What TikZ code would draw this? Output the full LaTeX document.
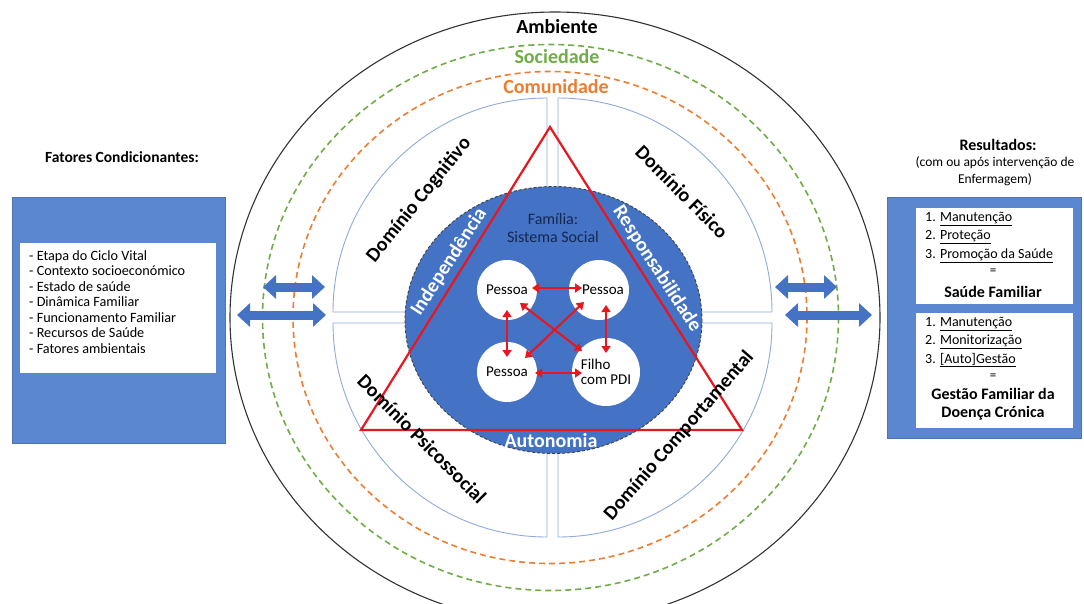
\documentclass[tikz,border=0pt]{standalone}
\usepackage{fontspec}
\setmainfont{Carlito}
\usetikzlibrary{arrows.meta, calc}
\definecolor{myblue}{RGB}{68,114,196}
\definecolor{boxblue}{RGB}{91,135,208}
\definecolor{quadblue}{RGB}{143,170,220}
\definecolor{mygreen}{RGB}{112,173,71}
\definecolor{myorange}{RGB}{237,125,49}
\definecolor{myred}{RGB}{232,22,30}
\definecolor{navy}{RGB}{22,40,80}
\newcommand{\fsz}[1]{\fontsize{#1}{#1}\selectfont}

\tikzset{
  ringline/.style={line width=1.6pt, dash pattern=on 6pt off 4pt},
  quadrant/.style={draw=quadblue, fill=white, line width=0.9pt},
  domlabel/.style={font=\fsz{20}\bfseries, inner sep=0pt},
  toplabel/.style={font=\fsz{20}\bfseries, inner sep=0pt},
  whitelabel/.style={font=\fsz{20}\bfseries, text=white, inner sep=0pt},
  pessoa/.style={circle, fill=white, minimum size=60pt, inner sep=0pt, font=\fsz{15}},
  redarrow/.style={draw=myred, line width=2.1pt, {Triangle[length=7pt,width=9pt]}-{Triangle[length=7pt,width=9pt]}},
  blockarrow/.style={draw=myblue, line width=9pt, {Triangle[length=13pt,width=23pt]}-{Triangle[length=13pt,width=23pt]}},
  panel/.style={fill=boxblue, draw=boxblue!85!black, line width=0.6pt},
  whitebox/.style={fill=white},
  listtext/.style={font=\fontsize{14.2}{15.5}\selectfont, align=left, inner sep=0pt, anchor=north west},
  restext/.style={font=\fontsize{14}{18.3}\selectfont, align=left, inner sep=0pt, anchor=north west},
  boldtext/.style={font=\fontsize{16}{18}\selectfont\bfseries, align=center, inner sep=0pt},
  headtext/.style={font=\fsz{16}\bfseries, inner sep=0pt},
}

\begin{document}
\begin{tikzpicture}[x=1pt, y=-1pt]
\useasboundingbox (0,0) rectangle (1084,603);
\fill[white] (0,0) rectangle (1084,603);
\coordinate (ctr) at (552.5,317.5);

% environment rings
\draw[line width=1.1pt, black!80] (555,317.5) ellipse [x radius=325, y radius=305.5];
\draw[ringline, mygreen] (550.5,317.5) ellipse [x radius=288, y radius=273];
\draw[ringline, myorange] (550,317.5) ellipse [x radius=257, y radius=246];
\node[toplabel] (amb) at (557,27) {Ambiente};
\node[toplabel, text=mygreen] (soc) at (557,57) {Sociedade};
\node[toplabel, text=myorange] (com) at (556,87) {Comunidade};

% four domains
\foreach \sx/\sy/\a in {-1/-1/180, 1/-1/270, 1/1/0, -1/1/90} {
  \draw[quadrant] ($(ctr)+(5.5*\sx,5.5*\sy)$) -- ++(\a:214) arc[start angle=\a, delta angle=90, radius=214] -- cycle;
}

% exchange arrows
\coordinate (la1) at (263,287);
\coordinate (la2) at (325,287);
\coordinate (lb1) at (237,315);
\coordinate (lb2) at (326,315);
\coordinate (ra1) at (775,287);
\coordinate (ra2) at (837,287);
\coordinate (rb1) at (785,315);
\coordinate (rb2) at (872,315);
\draw[blockarrow] (la1) -- (la2);
\draw[blockarrow] (lb1) -- (lb2);
\draw[blockarrow] (ra1) -- (ra2);
\draw[blockarrow] (rb1) -- (rb2);

% family system
\fill[myblue] (553.5,320) ellipse [x radius=148.5, y radius=133.5];
\draw[black!75, line width=0.9pt, dash pattern=on 3pt off 2pt] (553.5,320) ellipse [x radius=148.5, y radius=133.5];
\coordinate (tA) at (550,127);
\coordinate (tB) at (742,430);
\coordinate (tC) at (361,430);
\draw[myred, line width=2.2pt, line join=miter] (tA) -- (tB) -- (tC) -- cycle;

\node[whitelabel, rotate=57] (ind) at (449,262) {Independência};
\node[whitelabel, rotate=-57] (resp) at (657,269) {Responsabilidade};
\node[whitelabel] (aut) at (551,441) {Autonomia};
\node[font=\fontsize{16}{17.5}\selectfont, text=navy, align=center, inner sep=0pt] (fam) at (553,228) {Família:\\Sistema Social};

\node[pessoa] (p1) at (507,290) {Pessoa};
\node[pessoa] (p2) at (599,290) {\hspace{8pt}Pessoa};
\node[pessoa] (p3) at (507,372) {Pessoa};
\node[pessoa, minimum size=68pt, align=left] (p4) at (606,372) {Filho\\com PDI};

\draw[redarrow] ($(p1)+(25,-2)$) -- ($(p2)+(-17,-2)$);
\draw[redarrow] ($(p1)+(0,20)$) -- ($(p3)+(0,-15)$);
\draw[redarrow] ($(p2)+(7,15)$) -- ($(p4)+(0,-19)$);
\draw[redarrow] ($(p1)+(13,13)$) -- ($(p4)+(-24,-21)$);
\draw[redarrow] ($(p2)+(-15,12)$) -- ($(p3)+(18,-14)$);
\draw[redarrow] ($(p3)+(28,1)$) -- ($(p4)+(-24,1)$);

\node[domlabel, rotate=51] (dcog) at (419,200) {Domínio Cognitivo};
\node[domlabel, rotate=-45] (dfis) at (682,192) {Domínio Físico};
\node[domlabel, rotate=-45] (dpsi) at (422,439) {Domínio Psicossocial};
\node[domlabel, rotate=49] (dcomp) at (679,436) {Domínio Comportamental};

% conditioning factors
\node[headtext, font=\fsz{15.5}\bfseries] (fat) at (122,157) {Fatores Condicionantes:};
\draw[panel] (12,197) rectangle (225,443);
\fill[whitebox] (20,243) rectangle (216,373);
\node[listtext] (lista) at (29,250) {- Etapa do Ciclo Vital\\- Contexto socioeconómico\\- Estado de saúde\\- Dinâmica Familiar\\- Funcionamento Familiar\\- Recursos de Saúde\\- Fatores ambientais};

% outcomes
\node[headtext] (res) at (998,145) {Resultados:};
\node[font=\fontsize{13.5}{17}\selectfont, align=center, inner sep=0pt] (resnota) at (995,171) {(com ou após intervenção de\\Enfermagem)};
\draw[panel] (887,197) rectangle (1081,438);
\fill[whitebox] (916,208) rectangle (1073,304);
\fill[whitebox] (916,313) rectangle (1073,428);
\node[restext] (r1) at (925,212) {1. \underline{Manutenção}\\2. \underline{Proteção}\\3. \underline{Promoção da Saúde}};
\node[font=\fsz{13}, inner sep=0pt] (r1eq) at (993,272) {=};
\node[boldtext] (r1res) at (993,292) {Saúde Familiar};
\node[restext] (r2) at (925,317) {1. \underline{Manutenção}\\2. \underline{Monitorização}\\3. \underline{[Auto]Gestão}};
\node[font=\fsz{13}, inner sep=0pt] (r2eq) at (993,377) {=};
\node[boldtext] (r2res) at (993,404) {Gestão Familiar da\\Doença Crónica};
\end{tikzpicture}
\end{document}
